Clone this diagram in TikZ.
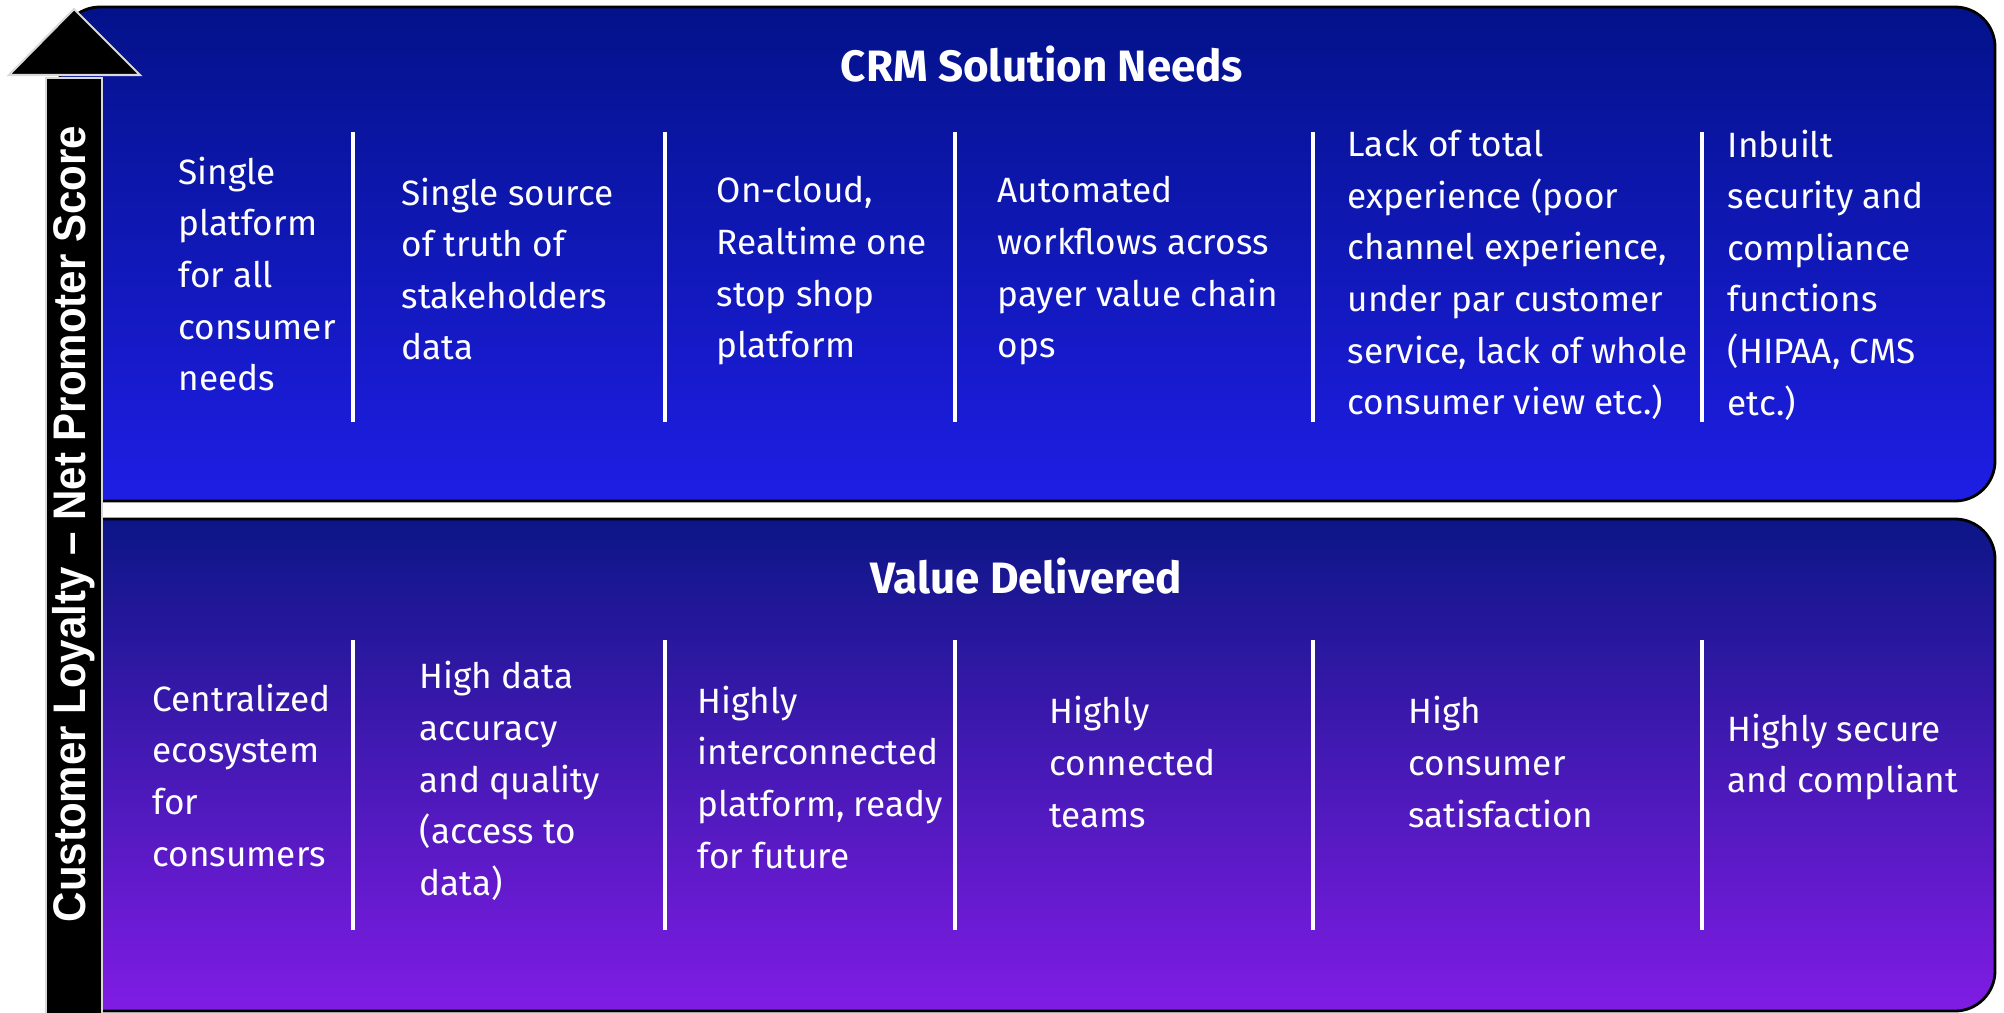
\documentclass[tikz,border=0pt]{standalone}
\usepackage{fontspec}
\setmainfont{Fira Sans}
\newfontfamily\arrowfont[FakeStretch=0.92]{Liberation Sans}
\definecolor{needstop}{RGB}{3,18,138}
\definecolor{needsbot}{RGB}{30,30,228}
\definecolor{valuetop}{RGB}{12,22,135}
\definecolor{valuebot}{RGB}{128,28,228}
\tikzset{
  panel/.style={rounded corners=4mm, draw=black, line width=0.8pt},
  cell/.style={text=white, anchor=west, align=left, inner sep=0pt,
    font=\fontsize{10}{14.7}\selectfont},
  head/.style={text=white, inner sep=0pt, font=\bfseries\fontsize{12.5}{15}\selectfont},
  sep/.style={white, line width=0.9pt}
}
\begin{document}
\begin{tikzpicture}[x=0.1mm,y=-0.1mm]
    \useasboundingbox (0,0) rectangle (2004,1012);
    %% panels
    \shade[panel, top color=needstop, bottom color=needsbot] (60,7) rectangle (1995,501);
    \shade[panel, top color=valuetop, bottom color=valuebot] (60,519) rectangle (1995,1011);
    \node[head] (needs) at (1042,64) {CRM Solution Needs};
    \node[head] (value) at (1026,576) {Value Delivered};
    %% separators
    \foreach \x in {353,665,955,1313,1702} {
        \draw[sep] (\x,132) -- (\x,422);
        \draw[sep] (\x,640) -- (\x,930);
    }
    %% needs
    \node[cell] (n1) at (178,274) {Single\\platform\\for all\\consumer\\needs};
    \node[cell] (n2) at (401,269) {Single source\\of truth of\\stakeholders\\data};
    \node[cell] (n3) at (716,271) {On-cloud,\\Realtime one\\stop shop\\platform};
    \node[cell] (n4) at (997,271) {Automated\\workflows across\\payer value chain\\ops};
    \node[cell] (n5) at (1347,275) {Lack of total\\experience (poor\\channel experience,\\under par customer\\service, lack of whole\\consumer view etc.)};
    \node[cell] (n6) at (1727,275) {Inbuilt\\security and\\compliance\\functions\\(HIPAA, CMS\\etc.)};
    %% value delivered
    \node[cell] (v1) at (152,775) {Centralized\\ecosystem\\for\\consumers};
    \node[cell] (v2) at (419,781) {High data\\accuracy\\and quality\\(access to\\data)};
    \node[cell] (v3) at (697,777) {Highly\\interconnected\\platform, ready\\for future};
    \node[cell] (v4) at (1049,762) {Highly\\connected\\teams};
    \node[cell] (v5) at (1408,762) {High\\consumer\\satisfaction};
    \node[cell] (v6) at (1727,757) {Highly secure\\and compliant};
    %% loyalty arrow
    \draw[fill=black, draw=white!85!black, line width=0.6pt] (46,1020) rectangle (102,78);
    \draw[fill=black, draw=white!85!black, line width=0.6pt] (9,75) -- (74,9) -- (140,75) -- cycle;
    \node[text=white, rotate=90, font=\arrowfont\bfseries\fontsize{13}{15}\selectfont] (nps) at (74,524)
        {Customer Loyalty – Net Promoter Score};
\end{tikzpicture}
\end{document}
